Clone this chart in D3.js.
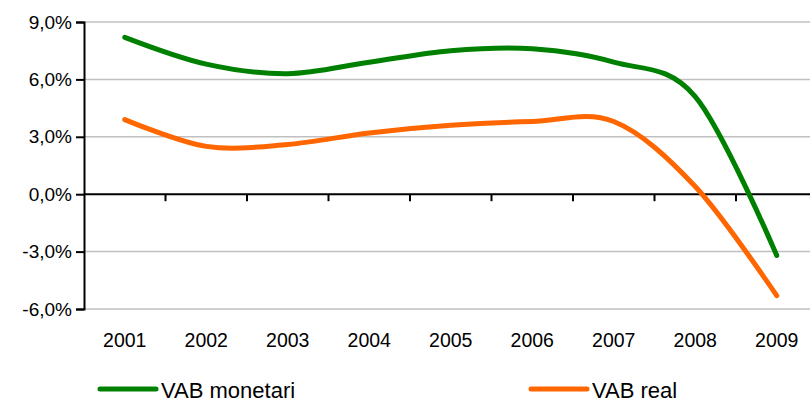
<!DOCTYPE html>
<html>
<head>
<meta charset="utf-8">
<script src="https://cdnjs.cloudflare.com/ajax/libs/d3/7.8.5/d3.min.js"></script>
<style>
  body { margin: 0; background: #fff; }
  svg { display: block; font-family: "Liberation Sans", Arial, sans-serif; }
</style>
</head>
<body>
<svg id="chart" width="810" height="403"></svg>
<script>
// data
var years = ["2001", "2002", "2003", "2004", "2005", "2006", "2007", "2008", "2009"];
var vabMonetari = [8.2, 6.8, 6.3, 6.9, 7.5, 7.6, 6.9, 5.1, -3.2];
var vabReal = [3.9, 2.5, 2.6, 3.2, 3.6, 3.8, 3.8, 0.4, -5.3];
var yTicks = [-6, -3, 0, 3, 6, 9];

var seriesNames = ["VAB monetari", "VAB real"];
var colors = ["#008000", "#ff6600"];

var svg = d3.select("#chart");

// plot area (right edge runs a bit past the window, like the original)
var plotLeft = 84, plotRight = 817.5, plotTop = 22, plotBottom = 309;

var x = d3.scaleBand().domain(years).range([plotLeft, plotRight]);
var y = d3.scaleLinear().domain([-6, 9]).range([plotBottom, plotTop]);

var fmt = function (d) { return d.toFixed(1).replace(".", ",") + "%"; };

// gridlines
svg.append("g")
  .selectAll("line")
  .data(yTicks.filter(function (d) { return d != 0; }))
  .enter().append("line")
  .attr("x1", plotLeft).attr("x2", 810)
  .attr("y1", function (d) { return y(d); })
  .attr("y2", function (d) { return y(d); })
  .attr("stroke", "#c0c0c0")
  .attr("stroke-width", 1.5);

// y axis
var yAxis = d3.axisLeft(y).tickValues(yTicks).tickFormat(fmt).tickSize(8).tickPadding(4);
var gy = svg.append("g")
  .attr("transform", "translate(" + plotLeft + ",0)")
  .call(yAxis);
gy.select(".domain").attr("stroke", "#000").attr("stroke-width", 2);
gy.selectAll(".tick line").attr("stroke", "#000").attr("stroke-width", 2);
gy.selectAll(".tick text").attr("font-size", 19).attr("fill", "#000")
  .attr("font-family", "Liberation Sans, Arial, sans-serif");

// x axis on the zero line, ticks between categories
var boundaries = years.map(function (d) { return x(d); }).concat([plotRight]);
svg.append("line")
  .attr("x1", plotLeft).attr("x2", 810)
  .attr("y1", y(0)).attr("y2", y(0))
  .attr("stroke", "#000").attr("stroke-width", 2);
svg.append("g")
  .selectAll("line")
  .data(boundaries.slice(1))
  .enter().append("line")
  .attr("x1", function (d) { return d; })
  .attr("x2", function (d) { return d; })
  .attr("y1", y(0)).attr("y2", y(0) + 7)
  .attr("stroke", "#000").attr("stroke-width", 2);

// category labels below the plot
svg.append("g")
  .selectAll("text")
  .data(years)
  .enter().append("text")
  .attr("x", function (d) { return x(d) + x.bandwidth() / 2; })
  .attr("y", 347)
  .attr("text-anchor", "middle")
  .attr("font-size", 19.5)
  .text(function (d) { return d; });

// lines
var line = d3.line()
  .x(function (d, i) { return x(years[i]) + x.bandwidth() / 2; })
  .y(function (d) { return y(d); })
  .curve(d3.curveCardinal.tension(0));

[vabMonetari, vabReal].forEach(function (s, i) {
  svg.append("path")
    .datum(s)
    .attr("d", line)
    .attr("fill", "none")
    .attr("stroke", colors[i])
    .attr("stroke-width", 5)
    .attr("stroke-linecap", "round");
});

// legend
var legendX = [100, 531];
seriesNames.forEach(function (name, i) {
  var g = svg.append("g").attr("transform", "translate(" + legendX[i] + ",389)");
  g.append("line")
    .attr("x1", 0).attr("x2", 56)
    .attr("stroke", colors[i]).attr("stroke-width", 5)
    .attr("stroke-linecap", "round");
  g.append("text")
    .attr("x", 61).attr("y", 9)
    .attr("font-size", 22)
    .text(name);
});
</script>
</body>
</html>
